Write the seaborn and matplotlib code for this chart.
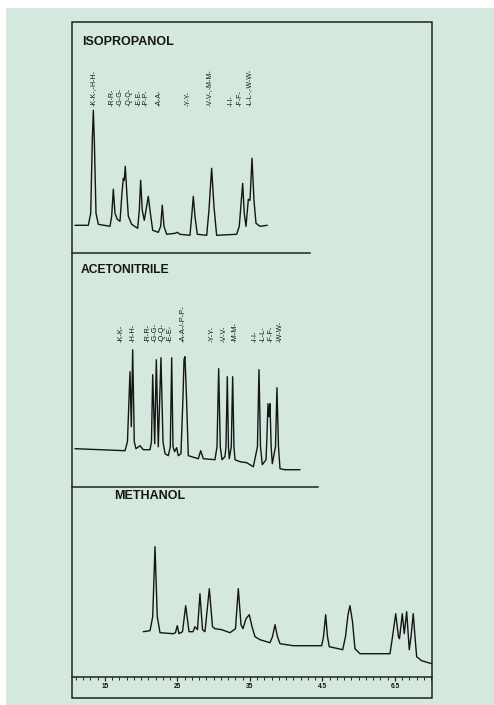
import numpy as np
import pandas as pd
import matplotlib
matplotlib.use("Agg")
import matplotlib.pyplot as plt
import seaborn as sns
from matplotlib.patches import Rectangle
from matplotlib.ticker import MultipleLocator, FixedLocator

# ---------------- data ----------------
# retention time (min) and detector signal (arbitrary units)
iso_time = [10.86, 12.70, 13.03, 13.25, 13.39, 13.53, 13.76, 14.08, 15.69, 15.92,
            16.15, 16.38, 16.70, 17.07, 17.34, 17.53, 17.66, 17.80, 17.99, 18.22,
            18.68, 19.51, 19.73, 19.92, 20.14, 20.42, 20.75, 20.97, 21.21, 21.58,
            22.35, 22.68, 22.90, 23.14, 23.51, 24.66, 24.98, 25.34, 26.72, 26.96,
            27.18, 27.41, 27.73, 29.03, 29.34, 29.71, 30.03, 30.40, 33.16, 33.52,
            33.99, 34.21, 34.45, 34.77, 35.00, 35.28, 35.55, 35.83, 36.38, 37.39]
iso_signal = [28, 28, 40, 113, 143, 113, 40, 29, 27, 37,
              64, 40, 34, 32, 60, 75, 73, 87, 63, 37,
              29, 25, 43, 73, 43, 33, 47, 57, 43, 23,
              21, 27, 48, 27, 19, 20, 21, 19, 18, 37,
              57, 37, 19, 18, 43, 85, 47, 18, 19, 27,
              70, 40, 27, 54, 53, 95, 53, 30, 27, 28]

acn_time = [10.86, 17.76, 18.10, 18.45, 18.63, 18.82, 19.04, 19.28, 19.83, 20.28,
            21.21, 21.41, 21.58, 21.86, 22.08, 22.35, 22.72, 23.00, 23.28, 23.73,
            24.01, 24.20, 24.38, 24.59, 24.89, 25.11, 25.48, 25.76, 25.90, 26.03,
            26.24, 26.49, 27.87, 28.20, 28.56, 30.17, 30.45, 30.68, 30.90, 31.14,
            31.55, 31.69, 31.87, 32.03, 32.14, 32.42, 32.61, 32.79, 32.93, 33.62,
            34.54, 35.46, 36.03, 36.24, 36.45, 36.70, 37.21, 37.34, 37.48, 37.62,
            37.76, 37.92, 38.08, 38.52, 38.72, 38.93, 39.14, 39.83, 41.90]
acn_signal = [38, 36, 45, 115, 60, 137, 45, 38, 41, 37,
              37, 45, 112, 43, 127, 40, 129, 45, 33, 31,
              40, 129, 40, 35, 39, 31, 33, 90, 127, 130,
              90, 31, 28, 36, 28, 27, 40, 118, 40, 27,
              30, 40, 110, 40, 28, 40, 110, 40, 27, 25,
              24, 20, 40, 117, 40, 22, 27, 50, 83, 70,
              83, 40, 23, 40, 99, 40, 18, 17, 17]

meoh_time = [20.28, 21.21, 21.58, 21.90, 22.21, 22.59, 24.42, 24.72, 24.97, 25.21,
             25.69, 26.13, 26.59, 27.14, 27.41, 27.76, 28.10, 28.45, 28.79, 29.39,
             29.83, 30.17, 31.10, 32.24, 33.00, 33.39, 33.76, 34.03, 34.45, 34.90,
             35.28, 35.69, 36.38, 37.76, 38.10, 38.45, 38.79, 39.14, 40.97, 44.89,
             45.14, 45.44, 45.69, 45.94, 47.79, 48.17, 48.52, 48.79, 49.14, 49.48,
             50.17, 54.31, 54.66, 55.10, 55.48, 55.62, 56.01, 56.28, 56.61, 56.97,
             57.21, 57.52, 57.76, 57.99, 58.68, 60.06]
meoh_signal = [45, 46, 60, 130, 60, 44, 43, 44, 51, 43,
               45, 71, 45, 45, 50, 47, 83, 47, 45, 88,
               50, 48, 47, 44, 48, 88, 52, 48, 58, 62,
               50, 40, 37, 34, 40, 52, 40, 33, 31, 31,
               40, 62, 40, 30, 27, 40, 62, 71, 55, 28,
               23, 23, 40, 63, 40, 38, 63, 43, 65, 27,
               40, 63, 40, 20, 16, 13]

iso_labels = ["-K-K-,-H-H-", "-R-R-", "-G-G-", "-Q-Q-", "-E-E-", "-P-P-", "-A-A-",
              "-Y-Y-", "-V-V-,-M-M-", "-I-I-", "-F-F-", "-L-L-,-W-W-"]
iso_label_time = [13.34, 16.01, 17.15, 18.31, 19.68, 20.66, 22.49,
                  26.49, 29.34, 32.47, 33.62, 34.90]

acn_labels = ["-K-K-", "-H-H-", "-R-R-", "-G-G-", "-Q-Q-", "-E-E-", "-A-A-/-P-P-",
              "-Y-Y-", "-V-V-", "-M-M-", "-I-I-", "-L-L-", "-F-F-", "-W-W-"]
acn_label_time = [17.30, 18.90, 20.97, 21.99, 22.95, 23.97, 25.80,
                  29.72, 31.41, 32.93, 35.69, 36.83, 37.99, 39.14]

panel_titles = ["ISOPROPANOL", "ACETONITRILE", "METHANOL"]
tick_values = [15, 25, 35, 45, 55]
tick_labels = ["15", "25", "35", "4.5", "6.5"]

# ---------------- figure ----------------
sns.set_theme(style="white")
plt.rcParams['font.family'] = ['Liberation Sans', 'DejaVu Sans']

W, H = 494, 705
fig = plt.figure(figsize=(W / 100, H / 100), dpi=100)
fig.patch.set_facecolor('white')
BG = '#d4e8de'
INK = '#151515'
fig.add_artist(Rectangle((6 / W, 0), 1 - 6 / W, (H - 8) / H, transform=fig.transFigure,
                         facecolor=BG, edgecolor='none', zorder=-10))
fig.add_artist(Rectangle((72 / W, (H - 698) / H), 360 / W, 676 / H, transform=fig.transFigure,
                         fill=False, edgecolor='#222222', linewidth=1.1, zorder=5))

PX_PER_MIN = 7.25
X0_MIN = 10.45


def px_axes(x0, x1, ytop, ybot):
    ax = fig.add_axes([x0 / W, (H - ybot) / H, (x1 - x0) / W, (ybot - ytop) / H])
    ax.set_facecolor('none')
    ax.set_xlim(X0_MIN, X0_MIN + (x1 - x0) / PX_PER_MIN)
    ax.set_ylim(0, ybot - ytop)
    for s in ['left', 'top', 'right']:
        ax.spines[s].set_visible(False)
    ax.spines['bottom'].set_color('#222222')
    ax.spines['bottom'].set_linewidth(1.1)
    ax.set_yticks([])
    return ax


ax1 = px_axes(72, 310, 22, 253.3)
ax2 = px_axes(72, 318, 255, 486.7)
ax3 = px_axes(72, 432, 489, 676.7)

traces = [(ax1, iso_time, iso_signal), (ax2, acn_time, acn_signal), (ax3, meoh_time, meoh_signal)]
for ax, t, s in traces:
    df = pd.DataFrame({"time": t, "signal": s})
    sns.lineplot(data=df, x="time", y="signal", ax=ax, color=INK, linewidth=1.0,
                 estimator=None, sort=False)
    ax.set_xlabel("")
    ax.set_ylabel("")

ax1.set_xticks([])
ax2.set_xticks([])

# titles
ax1.text(11.79, 208.3, panel_titles[0], fontsize=9, fontweight='bold', color=INK,
         ha='left', va='baseline')
ax2.text(11.65, 213.4, panel_titles[1], fontsize=8.7, fontweight='bold', color=INK,
         ha='left', va='baseline')
ax3.text(16.24, 178.2, panel_titles[2], fontsize=9, fontweight='bold', color=INK,
         ha='left', va='baseline', clip_on=False)

# peak labels
for lab, t in zip(iso_labels, iso_label_time):
    ax1.text(t, 146.8, lab, rotation=90, ha='center', va='bottom', fontsize=5.0,
             color=INK)
for lab, t in zip(acn_labels, acn_label_time):
    ax2.text(t, 144.4, lab, rotation=90, ha='center', va='bottom', fontsize=5.3,
             color=INK)

# bottom axis ticks
ax3.xaxis.set_major_locator(FixedLocator(tick_values))
ax3.set_xticklabels(tick_labels)
ax3.xaxis.set_minor_locator(MultipleLocator(1))
ax3.tick_params(axis='x', which='both', bottom=True, direction='out', color='#222222')
ax3.tick_params(axis='x', which='major', length=3, width=0.9, labelsize=4.8, pad=1.5,
                labelcolor=INK)
ax3.tick_params(axis='x', which='minor', length=1.8, width=0.7)
for lbl in ax3.get_xticklabels():
    lbl.set_fontweight('bold')

fig.savefig("out.png", dpi=100, facecolor=fig.get_facecolor())
